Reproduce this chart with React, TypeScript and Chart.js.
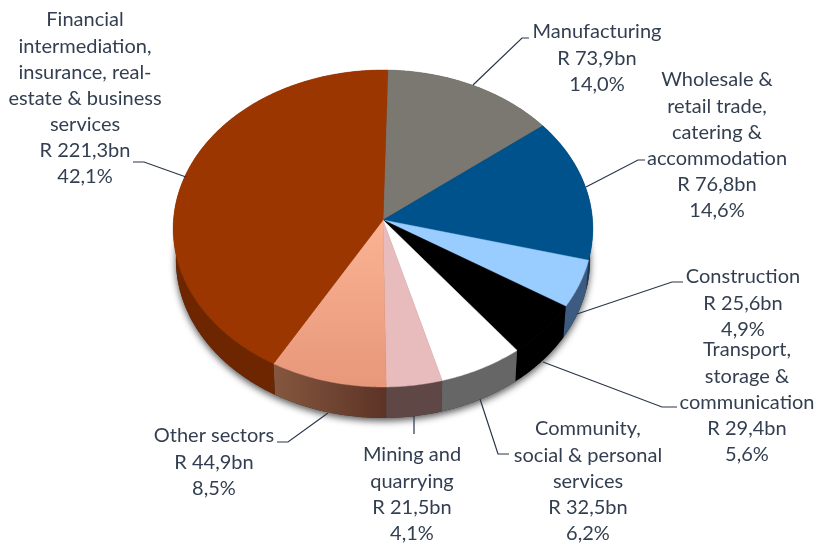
import React, { useEffect, useRef } from "react";
import { Chart, registerables } from "chart.js";

Chart.register(...registerables);

const sectors = [
  "Manufacturing",
  "Wholesale & retail trade, catering & accommodation",
  "Construction",
  "Transport, storage & communication",
  "Community, social & personal services",
  "Mining and quarrying",
  "Other sectors",
  "Financial intermediation, insurance, real-estate & business services",
];
const valuesBn = [73.9, 76.8, 25.6, 29.4, 32.5, 21.5, 44.9, 221.3];
const sharesPct = [14.0, 14.6, 4.9, 5.6, 6.2, 4.1, 8.5, 42.1];

const labelLines = [
  ["Manufacturing"],
  ["Wholesale &", "retail trade,", "catering &", "accommodation"],
  ["Construction"],
  ["Transport,", "storage &", "communication"],
  ["Community,", "social & personal", "services"],
  ["Mining and", "quarrying"],
  ["Other sectors"],
  ["Financial", "intermediation,", "insurance, real-", "estate & business", "services"],
];

const topColors = ["#7a7870", "#00528c", "#99ccff", "#000000", "#ffffff", "#e8bcbc", "#f3a688", "#9c3600"];
const sideColors = ["#4c4b46", "#17375a", "#3d5a80", "#000000", "#666666", "#5f4745", "#6a4030", "#6d2600"];

// Centre x and first-line centre y of each label block, then its leader polyline.
const labelBoxes = [
  { x: 597, y: 32, leader: [[473, 85], [522, 38], [529, 38]] },
  { x: 717, y: 80, leader: [[586, 187], [638, 160], [645, 160]] },
  { x: 743, y: 277, leader: [[577, 314], [672, 282], [683, 282]] },
  { x: 747, y: 350, leader: [[543, 362], [662, 407], [677, 407]] },
  { x: 588, y: 429, leader: [[480, 399], [498, 454], [509, 454]] },
  { x: 412, y: 455, leader: [[414, 416], [414, 434]] },
  { x: 214, y: 436, leader: [[328, 413], [288, 442], [277, 442]] },
  { x: 85, y: 20, leader: [[186, 177], [144, 162], [133, 162]] },
];

const LINE_HEIGHT = 26.1;
const TEXT_COLOR = "#333f50";
const DEPTH = 31;
const ASPECT = 209.5 / 158; // horizontal stretch of the tilted disc
const TILT = 0.0536; // perspective strength across the disc
const FLOOR_SCALE = 0.987; // lower rim sits slightly further away

const decimal = (v: number) => v.toFixed(1).replace(".", ",");

// Perspective projection of a disc point, given its polar position.
function project(cx: number, cy: number, r: number, angle: number) {
  const u = Math.cos(angle);
  const v = Math.sin(angle);
  const w = 1 - TILT * v;
  return { x: cx + (r * ASPECT * u) / w, y: cy + (r * v) / w };
}

function rimPoints(el: any) {
  const steps = Math.max(2, Math.ceil((el.endAngle - el.startAngle) / 0.01));
  const pts = [];
  for (let i = 0; i <= steps; i++) {
    const a = el.startAngle + ((el.endAngle - el.startAngle) * i) / steps;
    pts.push(project(el.x, el.y, el.outerRadius, a));
  }
  return pts;
}

const tiltedPie = {
  id: "tiltedPie",
  beforeDatasetsDraw(chart: any) {
    const { ctx } = chart;
    const arcs = chart.getDatasetMeta(0).data;
    const lower = (p: { x: number; y: number }, cx: number) => ({
      x: cx + (p.x - cx) * FLOOR_SCALE,
      y: p.y + DEPTH,
    });

    // Soft shadow under the lower rim.
    ctx.save();
    ctx.shadowColor = "rgba(0,0,0,0.65)";
    ctx.shadowBlur = 7;
    ctx.shadowOffsetY = 3;
    ctx.fillStyle = "#333333";
    ctx.beginPath();
    arcs.forEach((el: any) => {
      rimPoints(el).forEach((p) => {
        const q = lower(p, el.x);
        ctx.lineTo(q.x, q.y);
      });
    });
    ctx.closePath();
    ctx.fill();
    ctx.restore();

    // Outer walls.
    arcs.forEach((el: any, i: number) => {
      const pts = rimPoints(el);
      let fill: any = sideColors[i];
      if (i === 6) {
        const g = ctx.createLinearGradient(pts[pts.length - 1].x, 0, pts[0].x, 0);
        g.addColorStop(0, "#85573f");
        g.addColorStop(1, "#5c3325");
        fill = g;
      }
      ctx.beginPath();
      pts.forEach((p, k) => (k ? ctx.lineTo(p.x, p.y) : ctx.moveTo(p.x, p.y)));
      for (let k = pts.length - 1; k >= 0; k--) {
        const q = lower(pts[k], el.x);
        ctx.lineTo(q.x, q.y);
      }
      ctx.closePath();
      ctx.fillStyle = fill;
      ctx.fill();
    });

    // Top faces.
    arcs.forEach((el: any, i: number) => {
      const pts = rimPoints(el);
      let fill: any = topColors[i];
      if (i === 6) {
        const g = ctx.createLinearGradient(0, el.y, 0, el.y + 167);
        g.addColorStop(0, "#fab394");
        g.addColorStop(1, "#e8977a");
        fill = g;
      }
      ctx.beginPath();
      ctx.moveTo(el.x, el.y);
      pts.forEach((p) => ctx.lineTo(p.x, p.y));
      ctx.closePath();
      ctx.fillStyle = fill;
      ctx.strokeStyle = fill;
      ctx.lineWidth = 0.5;
      ctx.fill();
      ctx.stroke();
    });
    return false;
  },
};

const sectorLabels = {
  id: "sectorLabels",
  afterDraw(chart: any) {
    const { ctx } = chart;
    ctx.save();
    ctx.font = '20px Lato, "Open Sans", sans-serif';
    ctx.textAlign = "center";
    ctx.textBaseline = "middle";
    ctx.fillStyle = TEXT_COLOR;
    ctx.strokeStyle = "#2a3547";
    ctx.lineWidth = 1.2;
    labelBoxes.forEach((box, i) => {
      const lines = [
        ...labelLines[i],
        `R ${decimal(valuesBn[i])}bn`,
        `${decimal(sharesPct[i])}%`,
      ];
      lines.forEach((line, k) => ctx.fillText(line, box.x, box.y + k * LINE_HEIGHT));
      ctx.beginPath();
      box.leader.forEach(([x, y], k) => (k ? ctx.lineTo(x, y) : ctx.moveTo(x, y)));
      ctx.stroke();
    });
    ctx.restore();
  },
};

export default function App() {
  const ref = useRef<HTMLCanvasElement>(null);
  useEffect(() => {
    const chart = new Chart(ref.current!, {
      type: "pie",
      data: {
        labels: sectors,
        datasets: [{ data: valuesBn, backgroundColor: topColors, borderWidth: 0 }],
      },
      options: {
        responsive: false,
        animation: false,
        rotation: 1.4,
        layout: { padding: { left: 225, right: 275, top: 62, bottom: 166 } },
        plugins: { legend: { display: false }, tooltip: { enabled: false } },
      },
      plugins: [tiltedPie, sectorLabels],
    });
    return () => chart.destroy();
  }, []);
  return (
    <canvas
      ref={ref}
      width={816}
      height={544}
      style={{ position: "fixed", left: 0, top: 0, display: "block" }}
    />
  );
}
